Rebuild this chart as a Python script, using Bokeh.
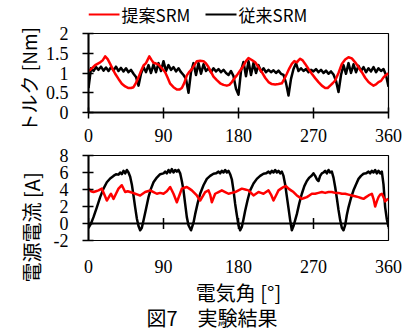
from bokeh.plotting import figure
from bokeh.models import Range1d, FixedTicker, CustomJSTickFormatter, Title, Span
from bokeh.core.properties import value
from bokeh.layouts import column
from bokeh.embed import file_html
from bokeh.resources import INLINE

# ---------------- data ----------------
x_ticks = [0, 90, 180, 270, 360]
torque_ticks = [0, 0.5, 1, 1.5, 2]
current_ticks = [-2, 0, 2, 4, 6, 8]
series_names = ["提案SRM", "従来SRM"]
torque_label = "トルク [Nm]"
current_label = "電源電流 [A]"
angle_label = "電気角 [°]"
caption = "図7　実験結果"

# proposed SRM torque (red)
tq_red_deg = [0, 2, 8, 14, 17, 20, 23, 26, 29, 32,
              36, 40, 44, 48, 51, 54, 57, 60, 63, 66,
              69, 73, 76, 78, 81, 84, 88, 92, 95, 98,
              102, 106, 109, 112, 115, 118, 121, 124, 127, 130,
              134, 138, 141, 144, 147, 150, 154, 158, 162, 166,
              169, 172, 175, 178, 181, 185, 189, 192, 196, 200,
              204, 208, 212, 216, 220, 224, 228, 232, 235, 238,
              241, 244, 247, 250, 252, 254, 257, 260, 264, 268,
              272, 276, 280, 284, 287, 290, 293, 296, 300, 304,
              308, 312, 316, 320, 324, 328, 332, 336, 339, 342,
              345, 348, 351, 354, 357, 360]
tq_red = [1.06, 1.08, 1.2, 1.27, 1.32, 1.42, 1.35, 1.23, 1.1, 0.98,
          0.85, 0.73, 0.66, 0.62, 0.62, 0.64, 0.75, 0.89, 1.05, 1.19,
          1.25, 1.42, 1.32, 1.26, 1.24, 1.21, 1.12, 1.02, 0.88, 0.73,
          0.64, 0.58, 0.58, 0.62, 0.75, 0.94, 1.03, 1.10, 1.2, 1.3,
          1.31, 1.30, 1.24, 1.15, 1.03, 0.91, 0.82, 0.74, 0.70, 0.68,
          0.70, 0.77, 0.86, 0.94, 1.03, 1.15, 1.3, 1.38, 1.33, 1.27,
          1.15, 1.02, 0.88, 0.77, 0.72, 0.71, 0.72, 0.74, 0.85, 0.98,
          1.12, 1.23, 1.3, 1.27, 1.32, 1.36, 1.32, 1.23, 1.10, 0.98,
          0.87, 0.77, 0.68, 0.62, 0.62, 0.68, 0.74, 0.81, 1.0, 1.23,
          1.34, 1.40, 1.37, 1.27, 1.15, 1.02, 0.88, 0.77, 0.72, 0.68,
          0.71, 0.77, 0.80, 0.89, 0.95, 0.99]

# conventional SRM torque (black), sampled every 3 degrees
tq_black_deg = list(range(0, 361, 3))
tq_black = [0.62, 1.12, 1.05, 1.15, 1.08, 1.16, 1.06, 1.14, 1.05, 1.15,
            1.07, 1.16, 1.05, 1.13, 1.04, 1.12, 1.02, 1.08, 0.98, 0.90,
            0.68, 0.98, 1.15, 1.02, 1.20, 1.00, 1.22, 1.02, 1.25, 1.05,
            1.30, 1.05, 1.20, 1.08, 1.15, 1.04, 1.12, 1.02, 0.95, 0.85,
            0.50, 1.02, 1.25, 0.95, 1.25, 0.98, 1.22, 1.05, 1.12, 1.02,
            1.12, 1.04, 1.10, 1.02, 1.08, 1.00, 0.95, 1.05, 0.92, 0.60,
            0.45, 1.05, 1.28, 0.92, 1.30, 0.95, 1.25, 1.00, 1.20, 1.04,
            1.12, 1.02, 1.08, 1.02, 1.07, 1.00, 1.06, 0.98, 0.95, 0.75,
            0.43, 0.85, 1.10, 1.25, 1.05, 1.12, 1.05, 1.10, 1.02, 1.08,
            1.04, 1.10, 1.02, 1.08, 1.00, 1.06, 0.98, 1.04, 0.96, 0.80,
            0.52, 0.95, 1.20, 0.98, 1.25, 1.00, 1.22, 1.02, 1.18, 1.05,
            1.15, 1.02, 1.12, 1.04, 1.15, 1.02, 1.12, 1.05, 1.10, 0.95,
            0.65]

# conventional SRM supply current (black): (angle, value)
cur_black_pts = [
    (0, -0.5), (3, 0.0), (6, 0.75), (10, 1.9), (14, 3.1), (18, 4.1), (22, 4.85),
    (26, 5.3), (30, 5.6), (33, 5.8), (36, 5.75), (38, 6.0), (40, 5.8), (42, 6.2),
    (44, 5.9), (46, 6.3), (48, 6.0), (50, 5.5), (52, 4.6), (54, 3.3), (56, 1.9),
    (58, 0.6), (60, -0.3), (62, -0.8), (64, -0.5), (66, 0.35), (69, 1.7), (72, 3.1),
    (75, 4.1), (78, 4.85), (82, 5.4), (86, 5.8), (90, 5.9), (92, 6.1), (94, 5.9),
    (96, 6.3), (98, 6.0), (100, 6.4), (102, 6.0), (104, 6.3), (106, 6.1), (108, 6.3),
    (110, 5.9), (112, 5.0), (114, 3.9), (116, 2.3), (118, 0.75), (120, -0.2),
    (123, -0.8), (126, 0.1), (128, 1.1), (131, 2.4), (134, 3.5), (138, 4.5),
    (142, 5.25), (146, 5.6), (150, 5.85), (153, 5.9), (156, 6.1), (158, 5.9),
    (160, 6.2), (162, 6.0), (164, 6.3), (166, 6.0), (168, 6.2), (170, 5.8),
    (172, 5.2), (174, 3.9), (176, 2.3), (178, 1.0), (180, -0.2), (182, -0.8),
    (184, -0.4), (186, 0.5), (188, 1.5), (191, 2.8), (194, 3.9), (198, 4.7),
    (202, 5.25), (206, 5.6), (210, 5.85), (213, 5.9), (216, 6.1), (218, 5.9),
    (220, 6.2), (222, 6.0), (224, 6.3), (226, 6.0), (228, 6.2), (230, 5.9),
    (232, 6.1), (234, 5.6), (236, 4.6), (238, 3.2), (240, 1.8), (242, 0.4),
    (244, -0.8), (246, -0.3), (248, 0.4), (250, 1.1), (253, 2.4), (256, 3.5),
    (259, 4.4), (262, 5.0), (265, 5.4), (268, 5.65), (270, 5.9), (272, 5.6),
    (274, 5.2), (276, 5.0), (278, 5.6), (280, 5.9), (282, 6.0), (284, 6.2),
    (286, 5.9), (288, 6.3), (290, 6.0), (292, 6.1), (294, 5.4), (296, 4.3),
    (298, 3.0), (300, 1.6), (302, 0.4), (304, -0.5), (306, -0.8), (308, -0.2),
    (310, 1.0), (312, 1.9), (315, 3.0), (318, 3.9), (321, 4.6), (324, 5.25),
    (327, 5.6), (330, 5.85), (333, 5.9), (336, 6.1), (338, 5.9), (340, 6.2),
    (342, 6.0), (344, 6.3), (346, 5.9), (348, 6.2), (350, 5.9), (352, 6.1),
    (354, 4.6), (356, 1.9), (358, 0.5), (360, -0.4)]

# proposed SRM supply current (red): (angle, value)
cur_red_pts = [
    (0, 4.1), (3, 3.8), (6, 3.7), (9, 3.8), (12, 3.9), (16, 4.1), (19, 3.4),
    (22, 2.7), (25, 3.2), (27, 3.5), (30, 2.9), (33, 3.5), (36, 4.1), (40, 4.5),
    (44, 3.7), (47, 3.8), (50, 3.7), (53, 3.6), (56, 3.5), (59, 3.4), (62, 3.3),
    (65, 3.5), (68, 3.7), (71, 3.8), (74, 3.9), (78, 3.7), (82, 3.5), (86, 3.6),
    (90, 3.5), (94, 3.8), (98, 4.3), (102, 3.5), (106, 2.5), (109, 3.3), (112, 4.1),
    (115, 4.2), (118, 4.3), (121, 4.1), (124, 3.9), (127, 3.6), (130, 3.3),
    (134, 2.7), (137, 3.2), (140, 3.7), (144, 3.9), (146, 3.4), (148, 2.5),
    (150, 3.0), (152, 3.5), (156, 3.7), (160, 3.9), (164, 3.7), (168, 3.5),
    (172, 3.6), (176, 3.7), (180, 3.9), (184, 4.1), (188, 4.0), (192, 3.9),
    (195, 3.6), (198, 3.3), (201, 3.5), (204, 3.7), (207, 3.6), (210, 3.5),
    (213, 3.7), (216, 3.9), (219, 3.4), (222, 2.7), (225, 3.3), (228, 3.9),
    (231, 4.1), (234, 4.3), (237, 4.4), (240, 4.1), (243, 3.9), (246, 3.7),
    (250, 3.3), (253, 3.1), (256, 2.9), (259, 3.0), (262, 3.1), (265, 3.3),
    (268, 3.5), (272, 3.5), (276, 3.6), (280, 3.7), (284, 3.6), (288, 3.7),
    (292, 3.7), (296, 3.6), (300, 3.6), (304, 3.5), (308, 3.5), (312, 3.4),
    (316, 3.3), (320, 3.2), (324, 3.1), (327, 3.0), (330, 2.9), (333, 3.1),
    (336, 3.3), (340, 3.5), (342, 2.9), (344, 2.0), (346, 2.6), (348, 3.1),
    (350, 3.4), (352, 3.5), (354, 3.1), (356, 2.6), (358, 2.8), (360, 2.9)]

cur_black_deg = [a for a, _ in cur_black_pts]
cur_black = [v for _, v in cur_black_pts]
cur_red_deg = [a for a, _ in cur_red_pts]
cur_red = [v for _, v in cur_red_pts]

# ---------------- style ----------------
SERIF = "Liberation Serif"
JP = "Noto Sans CJK JP"
RED = "#FF0000"
BLACK = "#000000"
series_colors = [RED, BLACK]
FRAME_LEFT, FRAME_W = 88, 300


def style_axis(ax, ticks):
    ax.ticker = FixedTicker(ticks=ticks)
    ax.formatter = CustomJSTickFormatter(code="return String(tick)")
    ax.minor_tick_line_color = None
    ax.major_tick_in = 5
    ax.major_tick_out = 6
    ax.major_tick_line_width = 1.5
    ax.major_tick_line_color = "black"
    ax.axis_line_width = 2
    ax.axis_line_color = "black"
    ax.major_label_text_font = SERIF
    ax.major_label_text_font_size = "18px"
    ax.major_label_text_color = "black"
    ax.axis_label_text_font = JP
    ax.axis_label_text_font_size = "20px"
    ax.axis_label_text_font_style = "normal"
    ax.axis_label_text_color = "black"


def base_fig(p):
    p.title.visible = False
    p.xgrid.visible = False
    p.ygrid.visible = False
    p.outline_line_color = "black"
    p.outline_line_width = 1.2
    p.background_fill_color = "white"
    p.border_fill_color = "white"


def side_title(text, align, offset, standoff, size="20px"):
    return Title(text=text, align=align, offset=offset, standoff=standoff,
                 text_font=JP, text_font_size=size, text_font_style="normal",
                 text_color="black")


# ---------------- legend strip (frame aligned with the plots below, 1 unit = 1 px) ----------------
LH = 26
pl = figure(width=414, height=LH, x_range=Range1d(0, FRAME_W), y_range=Range1d(0, LH),
            output_backend="svg", toolbar_location=None,
            min_border_left=FRAME_LEFT, min_border_right=414 - FRAME_LEFT - FRAME_W,
            min_border_top=0, min_border_bottom=0, x_axis_type=None, y_axis_type=None)
pl.title.visible = False
pl.outline_line_color = None
pl.background_fill_color = "white"
pl.border_fill_color = "white"
key_x0 = [0, 117]
key_len = 31
pl.segment(x0=key_x0, x1=[k + key_len for k in key_x0], y0=[LH - 14] * 2,
           y1=[LH - 14] * 2, line_color=series_colors, line_width=2)
pl.text(x=[k + key_len + 2 for k in key_x0], y=[LH - 13.5] * 2, text=series_names,
        text_font=value(JP), text_font_size="17px", text_color="black",
        text_align="left", text_baseline="middle")

# ---------------- torque plot ----------------
p1 = figure(width=414, height=120, x_range=Range1d(0, 360), y_range=Range1d(0, 2),
            output_backend="svg", toolbar_location=None,
            min_border_left=FRAME_LEFT, min_border_right=26, min_border_top=7,
            min_border_bottom=34)
base_fig(p1)
style_axis(p1.xaxis[0], x_ticks)
style_axis(p1.yaxis[0], torque_ticks)
p1.xaxis[0].major_label_standoff = 10
p1.yaxis[0].major_label_standoff = 14
p1.add_layout(side_title(torque_label, "left", -20, 2, "19px"), "left")

p1.line(tq_black_deg, tq_black, line_color=BLACK, line_width=2.5, line_join="round")
p1.line(tq_red_deg, tq_red, line_color=RED, line_width=2.5, line_join="round")

# ---------------- current plot ----------------
p2 = figure(width=414, height=185, x_range=Range1d(0, 360), y_range=Range1d(-2, 8),
            output_backend="svg", toolbar_location=None,
            min_border_left=FRAME_LEFT, min_border_right=26, min_border_top=9,
            min_border_bottom=91)
base_fig(p2)
style_axis(p2.xaxis[0], x_ticks)
style_axis(p2.yaxis[0], current_ticks)
xa = p2.xaxis[0]
xa.major_tick_in = 0
xa.major_tick_out = 0
xa.major_tick_line_color = None
xa.axis_line_color = None
xa.major_label_standoff = 19
xa.axis_label = angle_label
xa.axis_label_standoff = 2
p2.yaxis[0].major_label_standoff = 14
p2.add_layout(side_title(current_label, "left", -42, 10), "left")

# zero line with crossing tick marks (tick half-length ~5.5px of an 85px / 10 A frame)
p2.add_layout(Span(location=0, dimension="width", line_color="black", line_width=2))
tick_half = 10 / 85 * 5.5
p2.segment(x0=x_ticks, y0=[-tick_half] * len(x_ticks), x1=x_ticks,
           y1=[tick_half] * len(x_ticks), line_color="black", line_width=1.5)

p2.line(cur_black_deg, cur_black, line_color=BLACK, line_width=2.5, line_join="round")
p2.line(cur_red_deg, cur_red, line_color=RED, line_width=2.5, line_join="round")

p2.add_layout(side_title(caption, "left", 58, -18), "below")

layout = column(pl, p1, p2)
open("out.html", "w").write(file_html(layout, INLINE))
